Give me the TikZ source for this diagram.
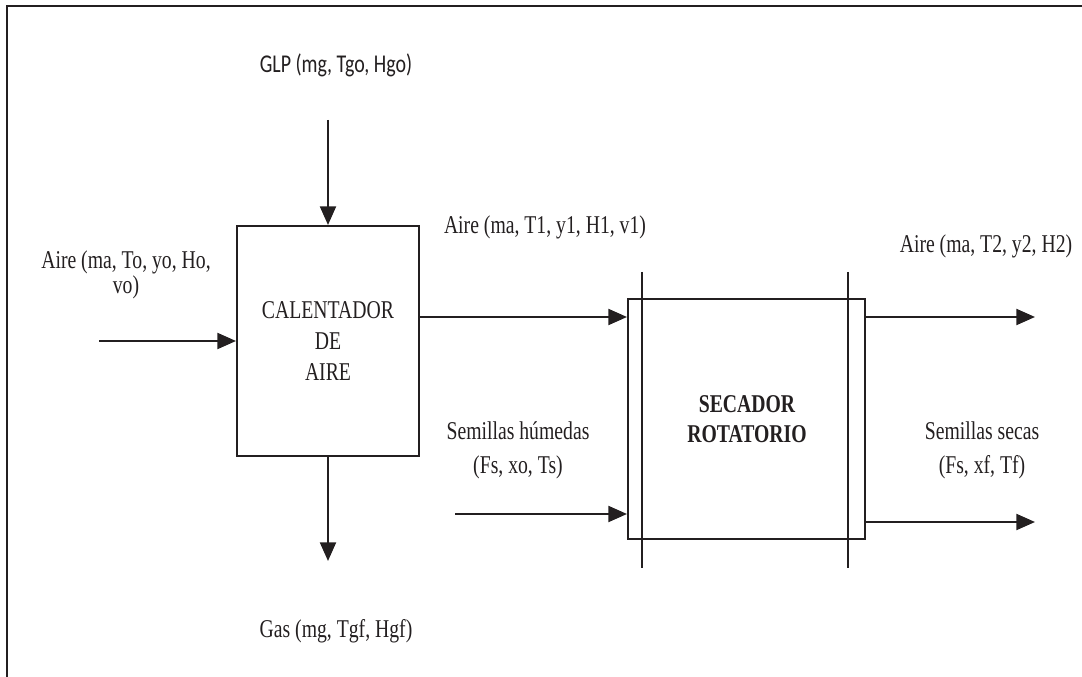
\documentclass[tikz,border=0pt]{standalone}
\usepackage{fontspec}
\setmainfont{Liberation Serif}[FakeStretch=0.77]
\newfontfamily\glpfont{Carlito}[FakeStretch=0.78]
\usetikzlibrary{arrows.meta,positioning}
\definecolor{inkc}{HTML}{231F20}
\tikzset{
unitbox/.style={draw=inkc, line width=1.5pt, fill=white, inner sep=0pt},
flowarrow/.style={-{Triangle[length=14pt,width=12pt]}, line width=1.6pt, draw=inkc},
shaftline/.style={line width=0.9pt, draw=inkc},
flowlabel/.style={align=center, inner sep=0pt, anchor=base, text=inkc, font=\fontsize{19.2}{22.5}\selectfont}
}

\begin{document}
\begin{tikzpicture}[x=0.75pt,y=-0.75pt]
\useasboundingbox (0,0) rectangle (1082,677);
\draw[inkc, line width=1.4pt] (7,677) -- (7,6) -- (1082,6);

% equipos
\node[unitbox, minimum width=136.5pt, minimum height=172.5pt] (heater) at (328,341) {};
\node[flowlabel, font=\fontsize{19.2}{23}\selectfont] (heatertxt) at (328,380) {CALENTADOR\\DE\\AIRE};

\draw[shaftline] (642,272) -- (642,568);
\draw[shaftline] (848,272) -- (848,568);
\node[unitbox, fill=none, minimum width=177.75pt, minimum height=180pt] (dryer) at (746.5,419) {};
\node[flowlabel, font=\fontsize{19.2}{22.5}\selectfont\bfseries] (dryertxt) at (747,442) {SECADOR\\ROTATORIO};

% puntos libres
\coordinate (glpin) at (328,120);
\coordinate (gasout) at (328,561);
\coordinate (airin) at (99,341);
\coordinate (airmid) at (419,317);
\coordinate (seedin) at (455,514);
\coordinate (airout) at (1035,317);
\coordinate (seedout) at (1035,522);

% corrientes
\draw[flowarrow] (glpin) -- (heater.north);
\draw[flowarrow] (heater.south) -- (gasout);
\draw[flowarrow] (airin) -- (heater.west);
\draw[flowarrow] (heater.east |- airmid) -- (dryer.west |- airmid);
\draw[flowarrow] (seedin) -- (dryer.west |- seedin);
\draw[flowarrow] (dryer.east |- airout) -- (airout);
\draw[flowarrow] (dryer.east |- seedout) -- (seedout);

% etiquetas
\node[flowlabel, font=\fontsize{19.2}{22.5}\selectfont\glpfont] (glplab) at (336,73) {GLP (mg, Tgo, Hgo)};
\node[flowlabel] (gaslab) at (336,637) {Gas (mg, Tgf, Hgf)};
\node[flowlabel, font=\fontsize{19.2}{18.75}\selectfont] (airinlab) at (126,294) {Aire (ma, To, yo, Ho,\\vo)};
\node[flowlabel] (airmidlab) at (545,234) {Aire (ma, T1, y1, H1, v1)};
\node[flowlabel] (airoutlab) at (986,253) {Aire (ma, T2, y2, H2)};
\node[flowlabel, font=\fontsize{19.2}{25.5}\selectfont] (seedinlab) at (518,473) {Semillas húmedas\\(Fs, xo, Ts)};
\node[flowlabel, font=\fontsize{19.2}{25.5}\selectfont] (seedoutlab) at (982,473) {Semillas secas\\(Fs, xf, Tf)};
\end{tikzpicture}
\end{document}
